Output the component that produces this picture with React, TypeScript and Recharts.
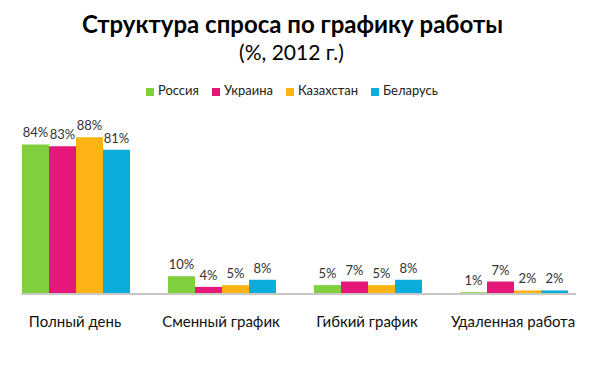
import { BarChart, Bar, XAxis, YAxis, Legend, LabelList } from 'recharts';

const categories = ['Полный день', 'Сменный график', 'Гибкий график', 'Удаленная работа'];
const russia = [84, 10, 5, 1];
const ukraine = [83, 4, 7, 7];
const kazakhstan = [88, 5, 5, 2];
const belarus = [81, 8, 8, 2];

const series = [
  { key: 'russia', name: 'Россия', color: '#80d03e', values: russia },
  { key: 'ukraine', name: 'Украина', color: '#e5187a', values: ukraine },
  { key: 'kazakhstan', name: 'Казахстан', color: '#fdb414', values: kazakhstan },
  { key: 'belarus', name: 'Беларусь', color: '#0aaddc', values: belarus },
];

const data = categories.map((name, i) => {
  const row: Record<string, string | number> = { name };
  series.forEach((s) => {
    row[s.key] = s.values[i];
  });
  return row;
});

const font = 'Lato, "Open Sans", sans-serif';

export default function App() {
  return (
    <div
      style={{
        position: 'absolute',
        left: 0,
        top: 0,
        width: 605,
        height: 367,
        background: '#fff',
        fontFamily: font,
      }}
    >
      <div
        style={{
          position: 'absolute',
          top: 9,
          left: 0,
          width: 585,
          textAlign: 'center',
          fontSize: 24,
          fontWeight: 700,
          color: '#000',
        }}
      >
        Структура спроса по графику работы
      </div>
      <div
        style={{
          position: 'absolute',
          top: 39,
          left: 0,
          width: 583,
          textAlign: 'center',
          fontSize: 21,
          color: '#000',
        }}
      >
        (%, 2012 г.)
      </div>
      <BarChart
        width={605}
        height={367}
        data={data}
        margin={{ top: 100, right: 29, bottom: 33, left: 21 }}
        barGap={0}
        barCategoryGap={20}
      >
        <XAxis
          dataKey="name"
          height={40}
          padding={{ left: -19, right: -10 }}
          tickLine={false}
          tickMargin={16}
          axisLine={{ stroke: '#c8c8c8', strokeWidth: 2 }}
          tick={{ fontSize: 15, fill: '#111', fontFamily: font }}
          interval={0}
        />
        <YAxis hide domain={[0, 100]} />
        <Legend
          verticalAlign="top"
          align="center"
          iconType="square"
          iconSize={8}
          itemSorter={(item: any) => series.findIndex((s) => s.key === item.dataKey)}
          wrapperStyle={{ top: 82, fontSize: 13, fontFamily: font }}
          formatter={(value) => <span style={{ color: '#222', marginRight: 3 }}>{value}</span>}
        />
        {series.map((s) => (
          <Bar key={s.key} dataKey={s.key} name={s.name} fill={s.color} isAnimationActive={false}>
            <LabelList
              dataKey={s.key}
              position="top"
              offset={7}
              formatter={(v: number) => `${v}%`}
              style={{ fontSize: 13, fill: '#333', fontFamily: font }}
            />
          </Bar>
        ))}
      </BarChart>
    </div>
  );
}
